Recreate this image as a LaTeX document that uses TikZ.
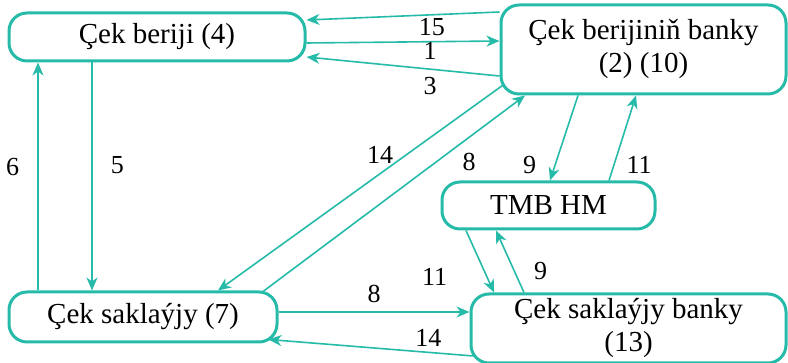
\documentclass[tikz,border=0pt]{standalone}
\usepackage{fontspec}
\setmainfont{LiberationSerif}[Extension=.ttf, UprightFont=*-Regular]
\usetikzlibrary{positioning, arrows.meta}
\definecolor{tmbteal}{RGB}{38,187,169}

\begin{document}
\begin{tikzpicture}[
    box/.style={draw=tmbteal, line width=3pt, rounded corners=18pt, align=center,
      inner sep=2pt, font=\rmfamily\fontsize{29}{33}\selectfont},
    lbl/.style={inner sep=0pt, font=\rmfamily\fontsize{26}{30}\selectfont},
    arr/.style={draw=tmbteal, line width=1.6pt, -{Stealth[length=13pt, width=11pt, inset=4pt]}},
  ]
      \useasboundingbox (0,0) rectangle (788pt,363pt);
      \node [box, minimum width=296pt, minimum height=48pt] (a) at (157pt,326pt) {Çek beriji (4)};
      \node [box, minimum width=285pt, minimum height=89pt, right=193pt of a, yshift=-12.5pt] (b) {Çek berijiniň banky\\(2) (10)};
      \node [box, minimum width=268pt, minimum height=50pt, below=228pt of a, xshift=-14pt] (d) {Çek saklaýjy (7)};
      \node [box, minimum width=213pt, minimum height=47pt, below=85pt of b, xshift=-95pt] (c) {TMB HM};
      \node [box, minimum width=315pt, minimum height=69pt, right=191pt of d, yshift=-11.5pt] (e) {Çek saklaýjy banky\\(13)};

      \draw [arr] ([yshift=37.5pt]b.west) -- node [lbl, pos=.35, below=3pt] {15} ([yshift=17pt]a.east);
      \draw [arr] ([yshift=-6pt]a.east) -- node [lbl, pos=.64, below=0pt] {1} ([yshift=8.5pt]b.west);
      \draw [arr] ([yshift=-26.5pt]b.west) -- node [lbl, pos=.36, below=7pt] {3} ([yshift=-20pt]a.east);
      \draw [arr] ([xshift=-65pt]a.south) -- node [lbl, pos=.45, right=18pt] {5} ([xshift=-65pt]a.south |- d.north);
      \draw [arr] ([xshift=-105pt]d.north) -- node [lbl, pos=.54, left=18pt] {6} ([xshift=-105pt]d.north |- a.south);
      \draw [arr] ([xshift=3pt, yshift=10pt]b.south west) -- node [lbl, pos=.43, above=9pt] {14} ([xshift=75pt]d.north);
      \draw [arr] ([xshift=120pt, yshift=-1pt]d.north) -- node [lbl, pos=.66, right=26pt] {8} ([xshift=-118.5pt]b.south);
      \draw [arr] ([xshift=-65.5pt]b.south) -- node [lbl, pos=.82, left=18pt] {9} ([xshift=1.5pt]c.north);
      \draw [arr] ([xshift=60.5pt]c.north) -- node [lbl, pos=.18, right=12pt] {11} ([xshift=-7.5pt]b.south);
      \draw [arr] ([xshift=-82.5pt]c.south) -- node [lbl, pos=.75, left=39pt] {11} ([xshift=-134.5pt]e.north);
      \draw [arr] ([xshift=-104.5pt]e.north) -- node [lbl, pos=.345, right=19pt] {9} ([xshift=-52.5pt]c.south);
      \draw [arr] ([yshift=5pt]d.east) -- node [lbl, pos=.5, above=8pt] {8} ([yshift=5pt]d.east -| e.west);
      \draw [arr] ([xshift=4pt, yshift=-27.5pt]e.west) -- node [lbl, pos=.22, above=5.5pt] {14} ([xshift=-10pt, yshift=4pt]d.south east);
\end{tikzpicture}
\end{document}
